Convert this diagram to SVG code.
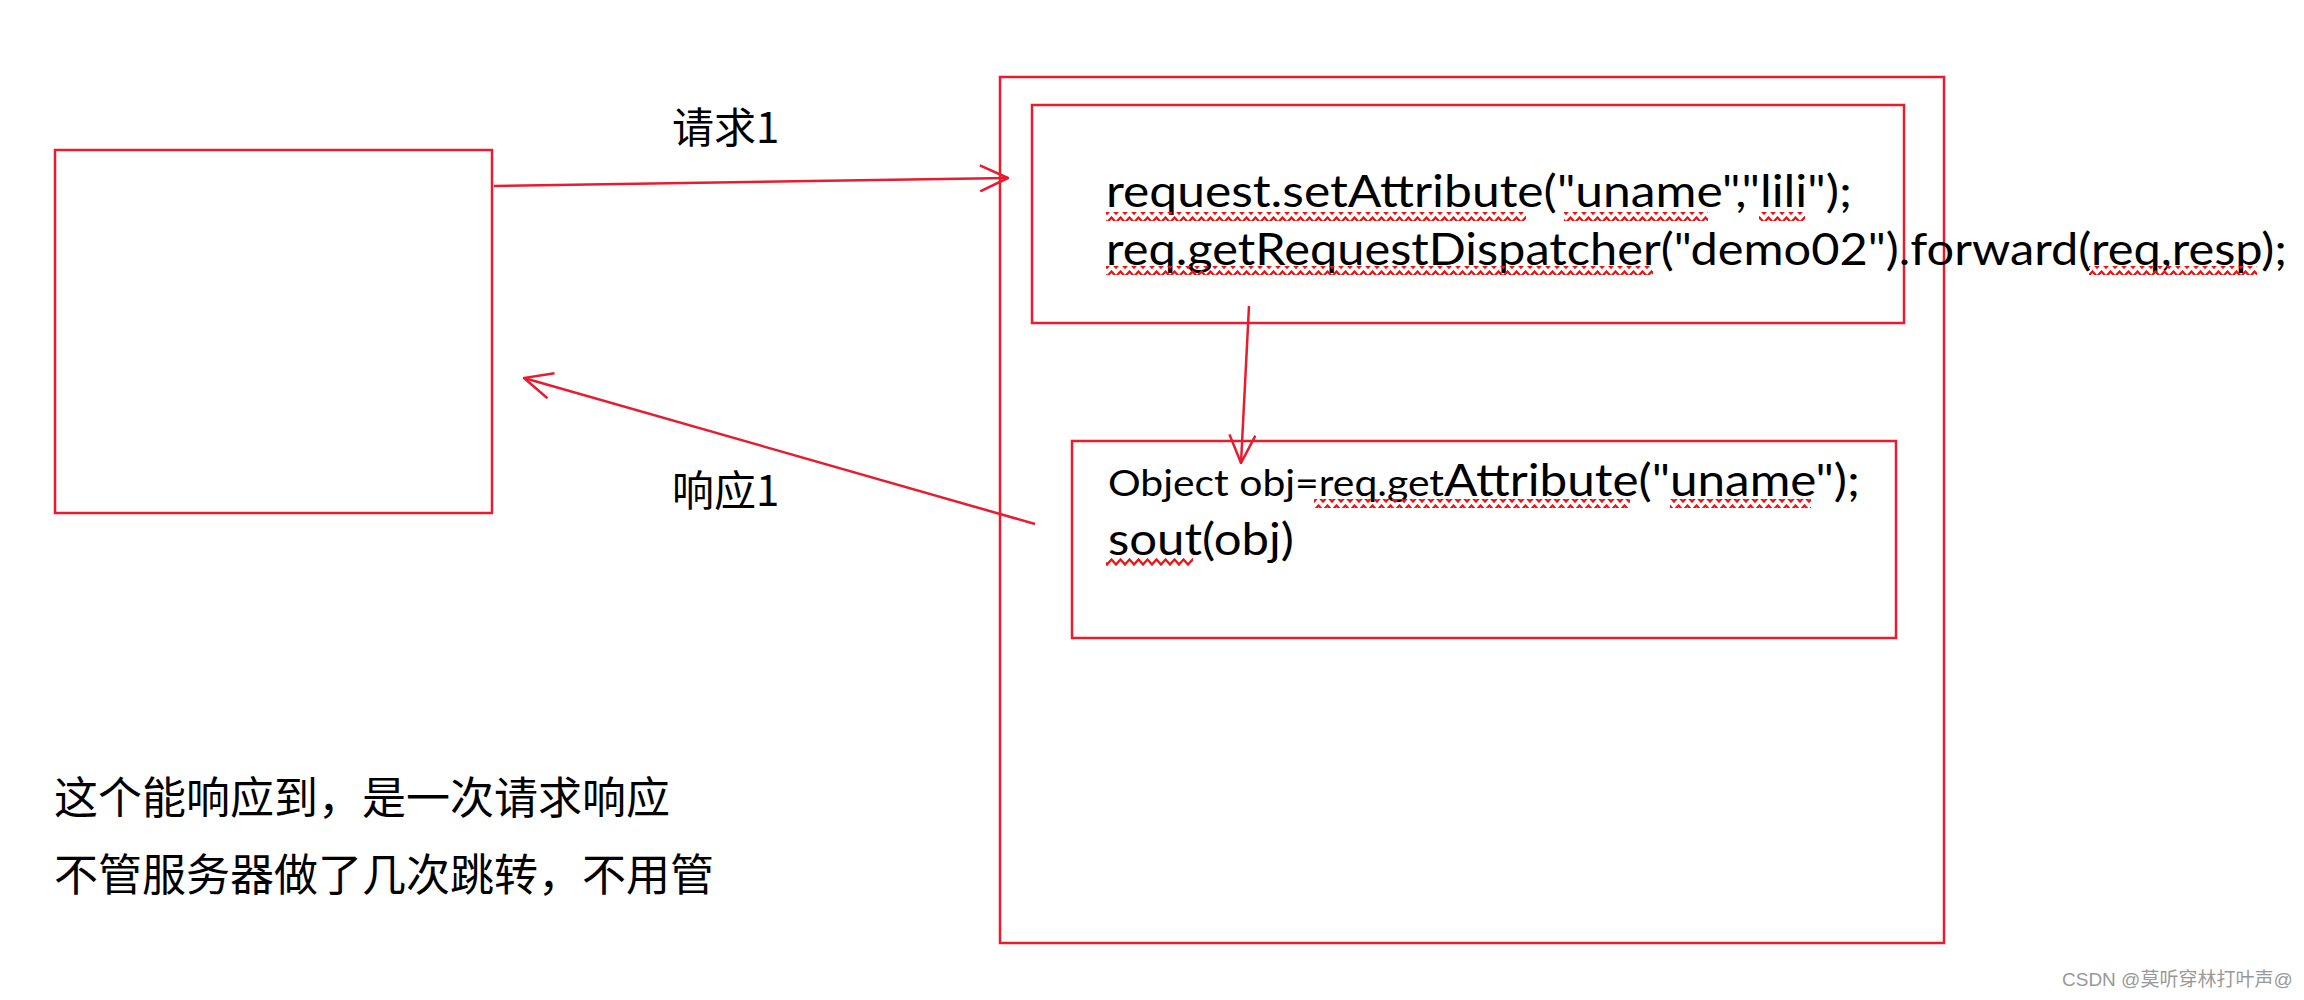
<svg xmlns="http://www.w3.org/2000/svg" width="2304" height="1000" viewBox="0 0 2304 1000">
<style>
.box{fill:none;stroke:#e81c2e;stroke-width:2.5}
.conn{fill:none;stroke:#e81c2e;stroke-width:2.5}
.code{font-family:Lato,"Open Sans","Liberation Sans",sans-serif;fill:#000}
.cjk{font-family:"Noto Sans CJK SC","Noto Sans",sans-serif;fill:#000}
.sq{fill:url(#zig)}
</style>
<defs>
<marker id="arr" markerUnits="userSpaceOnUse" viewBox="0 0 30 28" refX="29" refY="14" markerWidth="30" markerHeight="28" orient="auto">
<path d="M1,1 L29,14 L1,27" fill="none" stroke="#e81c2e" stroke-width="2.5"/>
</marker>
<pattern id="zig" patternUnits="userSpaceOnUse" width="9" height="9">
<path d="M-4.5,1.5 L0,6.5 L4.5,1.5 L9,6.5 L13.5,1.5" fill="none" stroke="#f01010" stroke-width="2.2"/>
</pattern>
</defs>
<rect width="2304" height="1000" fill="#fff"/>

<g id="client">
<rect class="box" x="55" y="150" width="437" height="363"/>
</g>

<g id="server">
<rect class="box" x="1000" y="77" width="944" height="866" stroke-width="3"/>
</g>

<g id="servlet1">
<rect class="box" x="1032" y="105" width="872" height="218"/>
<text class="code" x="1106" y="207" font-size="44" textLength="746" lengthAdjust="spacingAndGlyphs">request.setAttribute("uname","lili");</text>
<text class="code" x="1106" y="265" font-size="44" textLength="1181" lengthAdjust="spacingAndGlyphs">req.getRequestDispatcher("demo02").forward(req,resp);</text>
<rect class="sq" x="1106" y="212" width="420" height="9"/>
<rect class="sq" x="1564" y="212" width="144" height="9"/>
<rect class="sq" x="1759" y="212" width="46" height="9"/>
<rect class="sq" x="1106" y="266" width="547" height="9"/>
<rect class="sq" x="2089" y="266" width="168" height="9"/>
</g>

<g id="servlet2">
<rect class="box" x="1072" y="441" width="824" height="197"/>
<text class="code" x="1108" y="496"><tspan font-size="37" textLength="336" lengthAdjust="spacingAndGlyphs">Object obj=req.get</tspan><tspan font-size="45" textLength="416" lengthAdjust="spacingAndGlyphs">Attribute("uname");</tspan></text>
<text class="code" x="1108" y="555" font-size="44" textLength="186" lengthAdjust="spacingAndGlyphs">sout(obj)</text>
<rect class="sq" x="1314" y="499" width="316" height="9"/>
<rect class="sq" x="1670" y="499" width="141" height="9"/>
<rect class="sq" x="1106" y="557" width="87" height="9"/>
</g>

<g id="connectors">
<line class="conn" x1="494" y1="186" x2="1008" y2="178" marker-end="url(#arr)"/>
<line class="conn" x1="1035" y1="524" x2="524" y2="378" marker-end="url(#arr)"/>
<line class="conn" x1="1249" y1="306" x2="1241" y2="463" marker-end="url(#arr)"/>
</g>

<g id="labels">
<text class="cjk" x="672" y="143" font-size="42">请求1</text>
<text class="cjk" x="672" y="506" font-size="42">响应1</text>
<text class="cjk" x="54" y="814" font-size="44">这个能响应到，是一次请求响应</text>
<text class="cjk" x="54" y="891" font-size="44">不管服务器做了几次跳转，不用管</text>
<text x="2062" y="986" font-size="19" fill="#999" font-family="'Liberation Sans','Noto Sans CJK SC',sans-serif">CSDN @莫听穿林打叶声@</text>
</g>
</svg>
